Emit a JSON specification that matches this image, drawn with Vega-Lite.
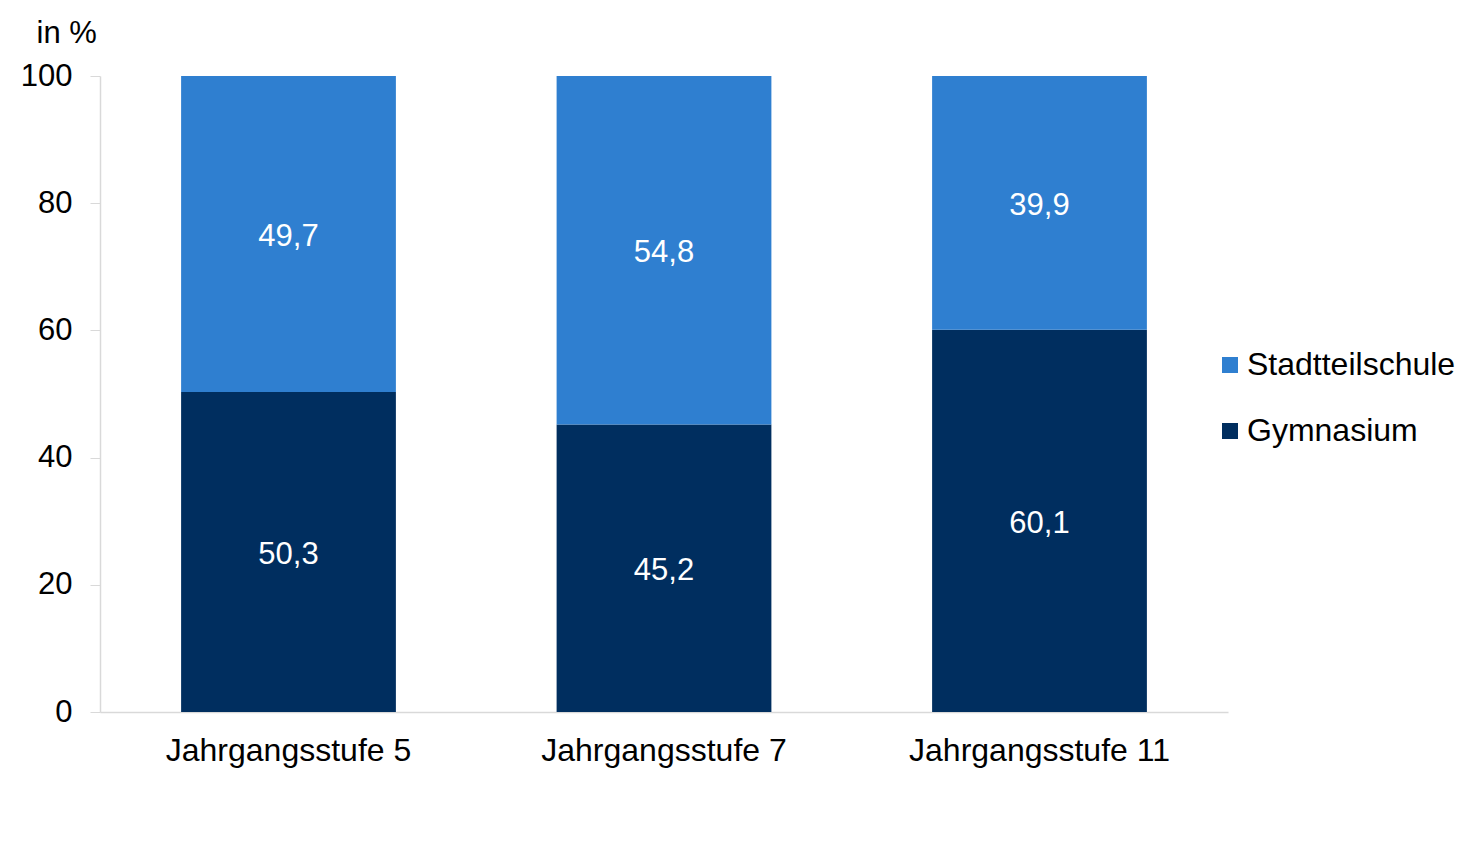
{
  "$schema": "https://vega.github.io/schema/vega-lite/v6.json",
  "width": 1128,
  "height": 636,
  "autosize": {"type": "none"},
  "padding": {"left": 100, "top": 76, "right": 240, "bottom": 131},
  "background": "white",
  "config": {
    "view": {"stroke": null},
    "font": "Liberation Sans",
    "locale": {
      "number": {"decimal": ",", "thousands": ".", "grouping": [3], "currency": ["", " €"]}
    }
  },
  "data": {
    "values": [
      {"stufe": "Jahrgangsstufe 5", "schulform": "Gymnasium", "ord": 1, "anteil": 50.3},
      {"stufe": "Jahrgangsstufe 5", "schulform": "Stadtteilschule", "ord": 2, "anteil": 49.7},
      {"stufe": "Jahrgangsstufe 7", "schulform": "Gymnasium", "ord": 1, "anteil": 45.2},
      {"stufe": "Jahrgangsstufe 7", "schulform": "Stadtteilschule", "ord": 2, "anteil": 54.8},
      {"stufe": "Jahrgangsstufe 11", "schulform": "Gymnasium", "ord": 1, "anteil": 60.1},
      {"stufe": "Jahrgangsstufe 11", "schulform": "Stadtteilschule", "ord": 2, "anteil": 39.9}
    ]
  },
  "transform": [
    {"stack": "anteil", "groupby": ["stufe"], "sort": [{"field": "ord"}], "as": ["y0", "y1"]},
    {"calculate": "(datum.y0 + datum.y1) / 2", "as": "ymid"}
  ],
  "encoding": {
    "x": {
      "field": "stufe",
      "type": "nominal",
      "sort": null,
      "title": null,
      "scale": {"paddingInner": 0.428, "paddingOuter": 0.216},
      "axis": {
        "labelAngle": 0,
        "labelFontSize": 32,
        "labelColor": "black",
        "labelPadding": 23,
        "labelLimit": 400,
        "ticks": false,
        "domainColor": "#d9d9d9",
        "domainWidth": 1.5
      }
    }
  },
  "layer": [
    {
      "mark": {"type": "bar"},
      "encoding": {
        "y": {
          "field": "y1",
          "type": "quantitative",
          "scale": {"domain": [0, 100]},
          "title": "in %",
          "axis": {
            "values": [0, 20, 40, 60, 80, 100],
            "grid": false,
            "labelFontSize": 31,
            "labelColor": "black",
            "labelPadding": 18,
            "tickSize": 10,
            "tickColor": "#d9d9d9",
            "domainColor": "#d9d9d9",
            "domainWidth": 1.5,
            "titleAngle": 0,
            "titleAlign": "left",
            "titleBaseline": "alphabetic",
            "titleX": -64,
            "titleY": -34,
            "titleFontSize": 31,
            "titleFontWeight": "normal",
            "titleColor": "black"
          }
        },
        "y2": {"field": "y0"},
        "color": {
          "field": "schulform",
          "type": "nominal",
          "scale": {
            "domain": ["Stadtteilschule", "Gymnasium"],
            "range": ["#2F7FD0", "#002E5F"]
          },
          "legend": {
            "title": null,
            "orient": "none",
            "legendX": 1114,
            "legendY": 273,
            "symbolType": "square",
            "symbolSize": 256,
            "symbolStrokeWidth": 0,
            "symbolOpacity": 1,
            "labelFontSize": 32,
            "labelColor": "black",
            "labelOffset": 1,
            "labelLimit": 400,
            "rowPadding": 34
          }
        }
      }
    },
    {
      "mark": {"type": "text", "color": "white", "fontSize": 31, "baseline": "middle", "dy": 3},
      "encoding": {
        "y": {"field": "ymid", "type": "quantitative"},
        "text": {"field": "anteil", "type": "quantitative", "format": ".1f"}
      }
    }
  ]
}
